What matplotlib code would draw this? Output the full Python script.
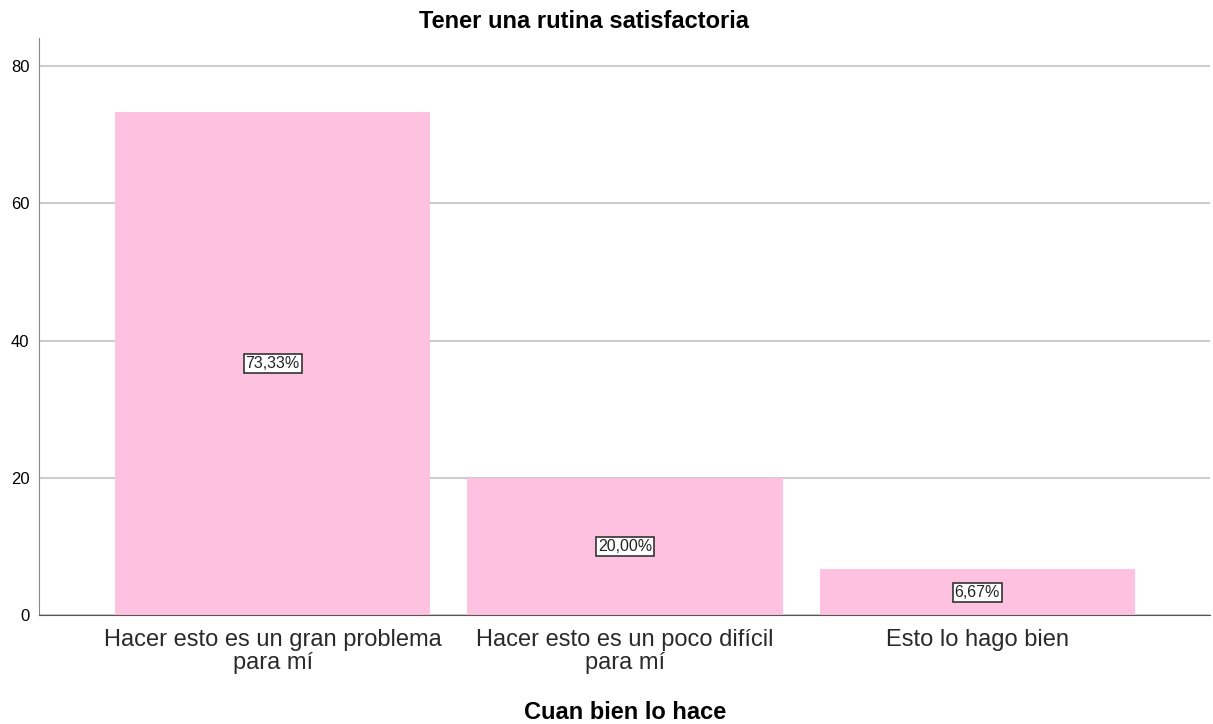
import numpy as np
import matplotlib.pyplot as plt

plt.rcParams['font.family'] = ['Liberation Sans', 'DejaVu Sans']

categorias = ['Hacer esto es un gran problema\npara mí', 'Hacer esto es un poco difícil\npara mí', 'Esto lo hago bien']
porcentajes = [73.33, 20.00, 6.67]
etiquetas = ['73,33%', '20,00%', '6,67%']
yticks = [0, 20, 40, 60, 80]

fig = plt.figure(figsize=(12.13, 7.24), dpi=100)
ax = fig.add_axes([0.0322, 0.1506, 0.9653, 0.7969])

x = np.arange(len(categorias))
ax.bar(x, porcentajes, width=0.895, color='#fec2e0', zorder=2)
for xi, v, t in zip(x, porcentajes, etiquetas):
    ax.text(xi, v / 2, t, ha='center', va='center', fontsize=11.5, color='#222222', zorder=3,
            bbox=dict(boxstyle='square,pad=0.12', fc='white', ec='#333333', lw=1.2))

ax.set_xlim(-0.663, 2.66)
ax.set_ylim(0, 84.1)
ax.set_yticks(yticks)
ax.set_xticks(x)
ax.set_xticklabels(categorias, fontsize=17, linespacing=1.08, color='#2a2a2a')
ax.tick_params(axis='x', length=0, pad=10)
ax.tick_params(axis='y', length=0, labelsize=12, pad=7)
ax.yaxis.grid(True, color='#cccccc', lw=1.5, zorder=0)
for s in ['top', 'right']:
    ax.spines[s].set_visible(False)
ax.spines['left'].set_color('#888888')
ax.spines['bottom'].set_color('#555555')

# titulo y etiqueta del eje como texto de figura
fig.text(584 / 1213, 1 - 28 / 724, 'Tener una rutina satisfactoria', ha='center', va='baseline',
         fontsize=17, fontweight='bold')
fig.text(625 / 1213, 1 - 719 / 724, 'Cuan bien lo hace', ha='center', va='baseline',
         fontsize=17, fontweight='bold')

fig.savefig('out.png', dpi=100)
